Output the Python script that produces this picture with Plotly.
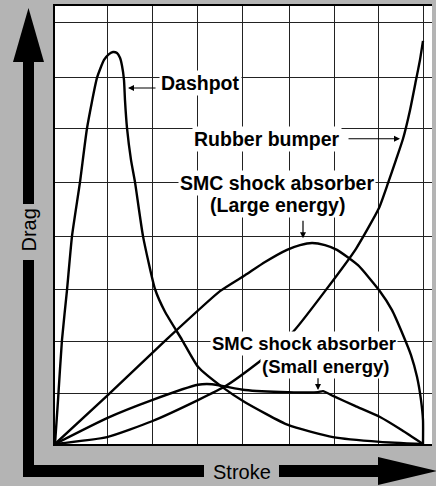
import plotly.graph_objects as go

# ---------------- data (stroke %, drag in grid units) ----------------
dashpot_x = [0, 0.82, 1.90, 3.26, 4.62, 6.79, 8.70, 11.41, 13.32, 14.67, 15.76, 16.85, 17.66, 18.21,
             18.75, 19.02, 19.57, 20.65, 21.74, 23.91, 27.17, 29.89, 34.51, 38.86, 45.38, 51.63,
             63.32, 75.54, 88.32, 100]
dashpot_y = [0, 0.83, 1.97, 2.91, 3.93, 4.95, 5.97, 6.92, 7.26, 7.37, 7.41, 7.39, 7.30, 7.15,
             6.88, 6.50, 5.97, 5.37, 4.95, 3.93, 2.93, 2.50, 1.97, 1.46, 1.08, 0.79,
             0.36, 0.13, 0.04, 0]

rubber_x = [0, 14.13, 26.36, 38.86, 46.47, 55.43, 60.33, 64.95, 73.37, 81.79, 88.04, 90.49,
            92.66, 94.57, 96.47, 98.10, 99.18, 100]
rubber_y = [0, 0.13, 0.43, 0.83, 1.10, 1.55, 1.83, 2.14, 2.89, 3.69, 4.46, 4.93,
            5.37, 5.77, 6.31, 6.88, 7.26, 7.62]

large_x = [0, 14.13, 29.89, 44.84, 51.63, 57.07, 63.04, 66.58, 69.84, 73.37, 76.63, 82.34,
           88.04, 91.58, 94.57, 96.74, 98.37, 99.46, 100, 100]
large_y = [0, 0.91, 1.95, 2.89, 3.19, 3.44, 3.67, 3.76, 3.80, 3.76, 3.67, 3.38,
           2.91, 2.53, 2.06, 1.68, 1.27, 0.83, 0.45, 0]

small_x = [0, 14.13, 26.36, 38.86, 42.66, 51.63, 63.32, 71.47, 72.83, 75.54, 81.52, 88.32, 94.3, 100]
small_y = [0, 0.49, 0.83, 1.12, 1.13, 1.02, 0.98, 0.98, 1.00, 0.91, 0.72, 0.51, 0.26, 0]

stroke_grid = [14.13, 26.36, 38.59, 50.82, 63.59, 75.82, 88.04, 100.0]
drag_grid = [0.96, 1.93, 2.93, 3.93, 4.95, 5.97, 6.92, 7.96]

# ---------------- figure ----------------
W, H = 436, 486
ML, MR, MT, MB = 55, 4, 6, 42
PW, PH = W - ML - MR, H - MT - MB


def pxx(x):
    return (x - ML) / PW


def pxy(y):
    return (H - MB - y) / PH


LINE = dict(color="black", width=2.4)
fig = go.Figure()
for xs, ys in [(dashpot_x, dashpot_y), (rubber_x, rubber_y), (large_x, large_y), (small_x, small_y)]:
    fig.add_trace(go.Scatter(x=xs, y=ys, mode="lines", line=dict(shape="spline", smoothing=0.5, **LINE),
                             hoverinfo="skip", showlegend=False))

# big black arrows (decoration)
def poly(pts):
    return "M " + " L ".join(f"{pxx(a):.5f},{pxy(b):.5f}" for a, b in pts) + " Z"

shapes = []
for pts in [
    [(23, 260), (34, 260), (34, 477), (23, 477)],
    [(23, 62), (34, 62), (34, 204), (23, 204)],
    [(13, 62), (28.5, 8), (44, 62)],
    [(23, 465), (204, 465), (204, 477), (23, 477)],
    [(279, 465), (378, 465), (378, 477), (279, 477)],
    [(378, 457), (437, 471), (378, 485)],
]:
    shapes.append(dict(type="path", xref="paper", yref="paper", path=poly(pts),
                       fillcolor="black", line=dict(width=0), layer="above"))

BOLD = "Liberation Sans, Arial, Helvetica, sans-serif"
ann = []


def label(text, x, y, size):
    ann.append(dict(text=f"<b>{text}</b>", x=x, y=y, xref="x", yref="y", showarrow=False,
                    font=dict(family=BOLD, size=size, color="black"), bgcolor="white",
                    borderpad=1, xanchor="center", yanchor="middle"))


def arrow(x0, y0, x1, y1):
    ann.append(dict(text="", x=x1, y=y1, ax=x0, ay=y0, xref="x", yref="y", axref="x", ayref="y",
                    showarrow=True, arrowhead=2, arrowsize=1, arrowwidth=1.2, arrowcolor="black"))


label("Dashpot", 39.67, 6.82, 19.5)
label("Rubber bumper", 57.74, 5.77, 19.5)
label("SMC shock absorber", 60.33, 4.93, 19.5)
label("(Large energy)", 60.33, 4.52, 19.5)
label("SMC shock absorber", 67.53, 1.90, 18.5)
label("(Small energy)", 73.64, 1.47, 18.5)

arrow(27.72, 6.73, 19.84, 6.73)
arrow(79.35, 5.77, 93.75, 5.77)
arrow(67.39, 4.25, 67.39, 3.89)
arrow(71.47, 1.27, 71.47, 1.02)

ann.append(dict(text="Drag", x=pxx(28.5), y=pxy(230), xref="paper", yref="paper", showarrow=False,
                textangle=-90, font=dict(family=BOLD, size=20, color="black"),
                xanchor="center", yanchor="middle"))
ann.append(dict(text="Stroke", x=pxx(241.5), y=pxy(471.5), xref="paper", yref="paper", showarrow=False,
                font=dict(family=BOLD, size=20, color="black"),
                xanchor="center", yanchor="middle"))

fig.update_layout(
    width=W, height=H,
    margin=dict(l=ML, r=MR, t=MT, b=MB),
    paper_bgcolor="#b4b4b4", plot_bgcolor="white",
    shapes=shapes, annotations=ann, showlegend=False,
    xaxis=dict(range=[0, PW / 3.68], tickmode="array", tickvals=stroke_grid, showticklabels=False,
               ticks="", showgrid=True, gridcolor="#222", gridwidth=1, zeroline=False,
               showline=True, linecolor="black", linewidth=1.5, mirror=True, fixedrange=True),
    yaxis=dict(range=[0, PH / 52.9], tickmode="array", tickvals=drag_grid, showticklabels=False,
               ticks="", showgrid=True, gridcolor="#222", gridwidth=1, zeroline=False,
               showline=True, linecolor="black", linewidth=1.5, mirror=False, fixedrange=True),
)

fig.write_html("out.html", config={"displayModeBar": False},
               post_script="document.body.style.margin='0px';document.body.style.overflow='hidden';")
